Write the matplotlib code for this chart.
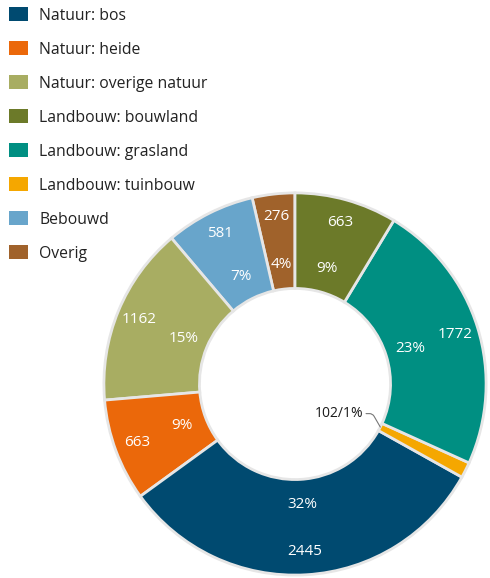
import numpy as np
import matplotlib.pyplot as plt
from matplotlib.patches import Patch

# data (order = counterclockwise from 12 o'clock)
labels = ['Overig', 'Bebouwd', 'Natuur: overige natuur', 'Natuur: heide',
          'Natuur: bos', 'Landbouw: tuinbouw', 'Landbouw: grasland', 'Landbouw: bouwland']
values = [276, 581, 1162, 663, 2445, 102, 1772, 663]
pct_labels = ['4%', '7%', '15%', '9%', '32%', '1%', '23%', '9%']
colors = ['#a0622b', '#68a5cb', '#a8ad62', '#eb680a', '#004a70', '#f5a700', '#008f82', '#6c7a29']

# legend order
legend_order = ['Natuur: bos', 'Natuur: heide', 'Natuur: overige natuur', 'Landbouw: bouwland',
                'Landbouw: grasland', 'Landbouw: tuinbouw', 'Bebouwd', 'Overig']

plt.rcParams['font.family'] = ['Open Sans', 'DejaVu Sans']

W, H = 490, 578
fig = plt.figure(figsize=(W / 100, H / 100), dpi=100)

cx, cy, r = 295, 578 - 384, 193
ax = fig.add_axes([(cx - r) / W, (cy - r) / H, 2 * r / W, 2 * r / H])
wedges, _ = ax.pie(values, colors=colors, startangle=90, counterclock=True, radius=1,
                   wedgeprops=dict(width=0.5, edgecolor='#e6e6e6', linewidth=2))
ax.set_xlim(-1.01, 1.01)
ax.set_ylim(-1.01, 1.01)
ax.set_aspect('equal')
ax.axis('off')

for w, v, p in zip(wedges, values, pct_labels):
    ang = np.deg2rad((w.theta1 + w.theta2) / 2)
    if v < 150:
        # small slice: label inside the hole with leader line
        x0, y0 = 0.5 * np.cos(ang), 0.5 * np.sin(ang)
        ax.annotate(f'{v}/{p}', xy=(x0, y0), xytext=(0.23, -0.155),
                    ha='center', va='center', fontsize=10, color='#1a1a1a',
                    arrowprops=dict(arrowstyle='-', color='#777777', lw=0.8,
                                    connectionstyle='angle,angleA=0,angleB=-60,rad=3',
                                    shrinkA=22, shrinkB=0))
        continue
    ax.text(0.63 * np.cos(ang), 0.63 * np.sin(ang), p, ha='center', va='center',
            fontsize=11, color='white')
    ax.text(0.88 * np.cos(ang), 0.88 * np.sin(ang), str(v), ha='center', va='center',
            fontsize=11, color='white')

col = dict(zip(labels, colors))
handles = [Patch(facecolor=col[l], edgecolor='none') for l in legend_order]
fig.legend(handles, legend_order, loc='upper left', bbox_to_anchor=(3 / W, 1 - 1 / H),
           frameon=False, fontsize=11.3, labelcolor='#222222',
           handlelength=1.2, handleheight=1.0, handletextpad=0.7, labelspacing=1.12,
           borderaxespad=0)

fig.savefig('out.png', dpi=100)
